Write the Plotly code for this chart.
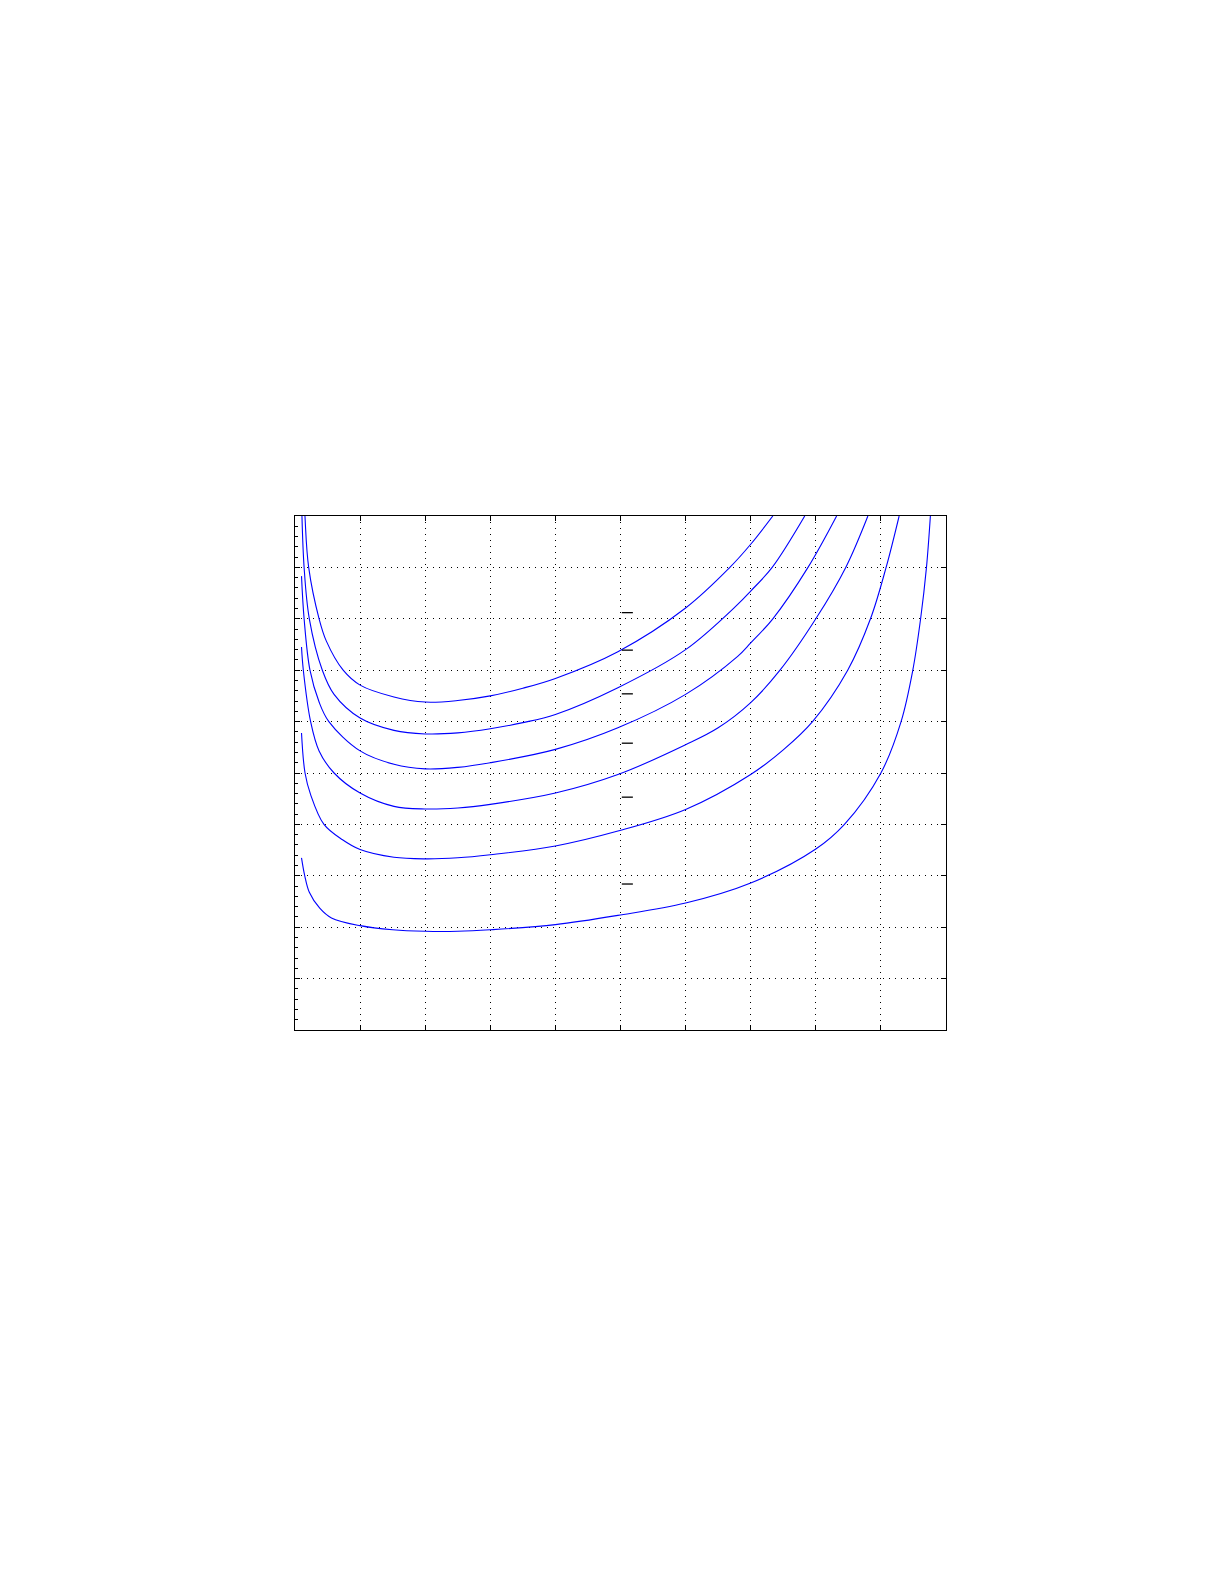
import plotly.graph_objects as go

# curves (no tick labels on the original, axes 0..10)
c1_x = [0.10, 0.153, 0.21, 0.37, 0.48, 0.74, 1.0, 1.52, 2.0, 2.5, 3.0, 3.5, 4.0, 4.96, 6.0, 6.68, 7.0, 7.34]
c1_y = [11.8, 10.0, 9.0, 8.0, 7.57, 7.0, 6.71, 6.48, 6.38, 6.41, 6.50, 6.65, 6.84, 7.36, 8.21, 9.0, 9.45, 10.0]

c2_x = [0.10, 0.14, 0.22, 0.42, 0.60, 1.0, 1.52, 2.0, 2.5, 3.0, 3.5, 4.0, 4.96, 6.0, 6.8, 7.0, 7.33, 7.83]
c2_y = [10.33, 9.0, 8.0, 7.0, 6.53, 6.07, 5.83, 5.76, 5.78, 5.86, 5.98, 6.14, 6.66, 7.40, 8.28, 8.54, 9.0, 10.0]

c3_x = [0.10, 0.14, 0.23, 0.37, 0.52, 1.0, 1.52, 2.0, 2.5, 3.0, 4.0, 4.96, 6.0, 6.8, 7.0, 7.34, 7.88, 8.32]
c3_y = [8.83, 8.0, 7.0, 6.38, 6.0, 5.43, 5.17, 5.08, 5.11, 5.20, 5.46, 5.88, 6.53, 7.27, 7.53, 8.0, 9.0, 10.0]

c4_x = [0.10, 0.128, 0.24, 0.37, 0.60, 1.0, 1.52, 2.0, 2.5, 3.0, 4.0, 4.96, 6.0, 6.5, 7.0, 7.45, 8.0, 8.46, 8.80]
c4_y = [7.45, 7.0, 6.0, 5.43, 5.0, 4.61, 4.35, 4.30, 4.32, 4.39, 4.61, 4.97, 5.55, 5.88, 6.37, 7.0, 8.0, 9.0, 10.0]

c5_x = [0.10, 0.154, 0.24, 0.445, 0.73, 1.0, 1.52, 2.0, 2.5, 3.0, 4.0, 4.96, 6.0, 7.0, 7.5, 7.95, 8.49, 8.84, 9.08, 9.28]
c5_y = [5.78, 5.0, 4.58, 4.0, 3.70, 3.51, 3.36, 3.33, 3.35, 3.41, 3.58, 3.87, 4.29, 4.97, 5.45, 6.0, 7.0, 8.0, 9.0, 10.0]

c6_x = [0.10, 0.15, 0.22, 0.38, 0.56, 1.0, 1.5, 2.0, 2.5, 3.0, 4.0, 4.96, 6.0, 7.0, 8.0, 8.44, 9.0, 9.31, 9.49, 9.61, 9.70, 9.76]
c6_y = [3.35, 3.0, 2.68, 2.37, 2.18, 2.03, 1.95, 1.92, 1.92, 1.95, 2.05, 2.23, 2.47, 2.86, 3.52, 4.0, 5.0, 6.0, 7.0, 8.0, 9.0, 10.0]

curves = [(c1_x, c1_y), (c2_x, c2_y), (c3_x, c3_y), (c4_x, c4_y), (c5_x, c5_y), (c6_x, c6_y)]

# the curve labels only show their overbars
label_x0 = 5.02
label_x1 = 5.19
label_y = [8.12, 7.39, 6.54, 5.58, 4.53, 2.84]

fig = go.Figure()

for cx, cy in curves:
    fig.add_trace(go.Scatter(x=cx, y=cy, mode="lines",
                             line=dict(color="#0000ff", width=1.1, shape="spline", smoothing=1.0),
                             showlegend=False, hoverinfo="skip"))

bx, by = [], []
for ly in label_y:
    bx += [label_x0, label_x1, None]
    by += [ly, ly, None]
fig.add_trace(go.Scatter(x=bx, y=by, mode="lines", yaxis="y2",
                         line=dict(color="black", width=1.3),
                         showlegend=False, hoverinfo="skip"))

grid = dict(showgrid=True, gridcolor="black", gridwidth=1, griddash="1px,5px")
axis = dict(range=[0, 10], tick0=0, dtick=1, ticks="inside", ticklen=5, tickcolor="black",
            tickwidth=1, showline=True, linecolor="black", linewidth=1,
            showticklabels=False, zeroline=False)

fig.update_layout(
    width=1225, height=1585,
    margin=dict(l=287, r=287, t=508, b=563),
    paper_bgcolor="white", plot_bgcolor="white",
    xaxis=dict(**axis, **grid, mirror="ticks"),
    yaxis=dict(**axis, **grid, mirror=False,
               minor=dict(ticks="inside", ticklen=3, tickcolor="black", dtick=0.2, showgrid=False)),
    yaxis2=dict(**axis, overlaying="y", side="right", showgrid=False),
)

fig.write_html("out.html")
